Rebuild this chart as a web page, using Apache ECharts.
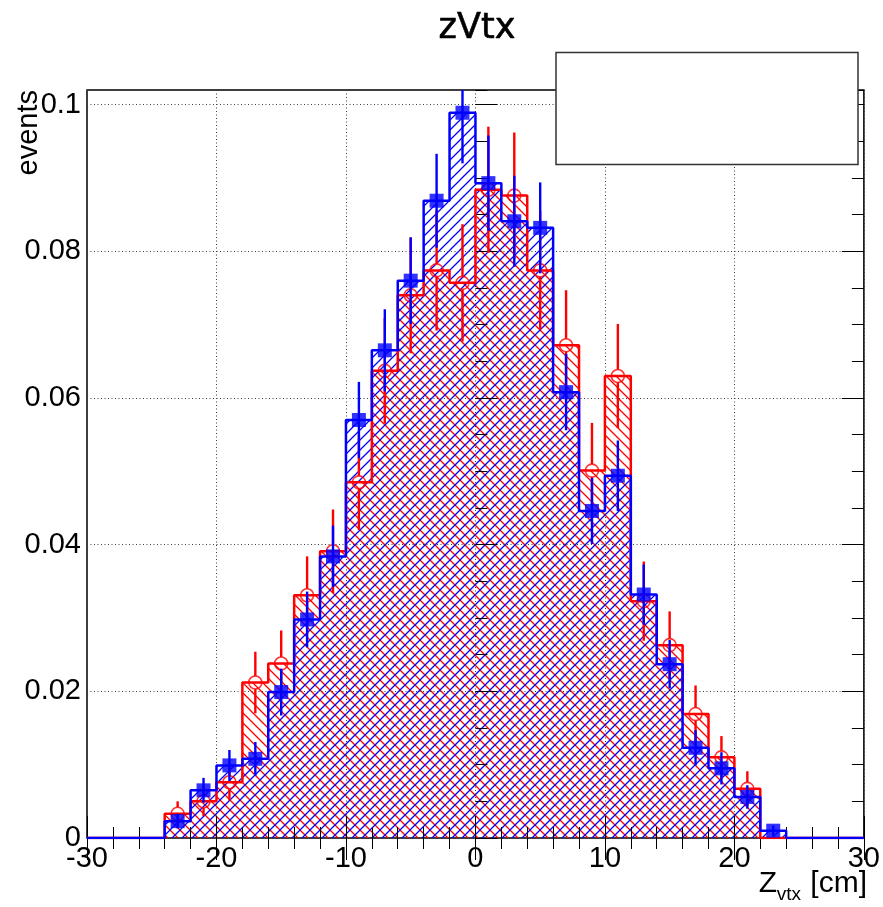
<!DOCTYPE html>
<html>
<head>
<meta charset="utf-8">
<script src="https://cdn.jsdelivr.net/npm/echarts@6/dist/echarts.min.js"></script>
<style>
html, body { margin: 0; padding: 0; background: #ffffff; }
#chart { width: 883px; height: 907px; }
</style>
</head>
<body>
<div id="chart"></div>
<script>
// z-vertex histograms: 2 cm bins between -24 and 24 cm
const binCenters = [-23, -21, -19, -17, -15, -13, -11, -9, -7, -5, -3, -1,
                    1, 3, 5, 7, 9, 11, 13, 15, 17, 19, 21, 23];
const binWidth = 2;

// red sample (open circles, "\\" hatch)
const redValues = [0.0033, 0.0050, 0.0076, 0.0212, 0.0238, 0.0331, 0.0391, 0.0485,
                   0.0637, 0.0740, 0.0774, 0.0757, 0.0884, 0.0876, 0.0774, 0.0672,
                   0.0501, 0.0630, 0.0323, 0.0263, 0.0169, 0.0110, 0.0067, 0.0];
const redErrors = [0.0017, 0.0020, 0.0025, 0.0042, 0.0045, 0.0053, 0.0057, 0.0065,
                   0.0072, 0.0079, 0.0082, 0.0080, 0.0086, 0.0086, 0.0081, 0.0075,
                   0.0065, 0.0071, 0.0054, 0.0046, 0.0039, 0.0029, 0.0024, 0.0];

// blue sample (filled squares, "//" hatch)
const blueValues = [0.0023, 0.0065, 0.0099, 0.0108, 0.0199, 0.0298, 0.0384, 0.0570,
                    0.0665, 0.0760, 0.0869, 0.0989, 0.0893, 0.0841, 0.0832, 0.0608,
                    0.0446, 0.0494, 0.0332, 0.0237, 0.0123, 0.0095, 0.0056, 0.0010];
const blueErrors = [0.0010, 0.0017, 0.0021, 0.0023, 0.0032, 0.0038, 0.0042, 0.0052,
                    0.0056, 0.0059, 0.0064, 0.0069, 0.0065, 0.0062, 0.0062, 0.0052,
                    0.0045, 0.0048, 0.0041, 0.0033, 0.0024, 0.0022, 0.0016, 0.0007];

// axis ranges and tick steps
const xRange = [-30, 30];
const xMajorStep = 10;
const yRange = [0, 0.102];
const yMajorStep = 0.02;
const yMinorStep = 0.005;

const RED = '#ff0000';
const BLUE = '#0000ff';
const FONT = 'Liberation Sans, Arial, Helvetica, sans-serif';

// Diagonal hatch tile used as a repeating fill
function hatchPattern(color, dir) {
  const s = 10;
  const c = document.createElement('canvas');
  c.width = s; c.height = s;
  const g = c.getContext('2d');
  g.strokeStyle = color;
  g.lineWidth = 1.3;
  g.beginPath();
  if (dir === '/') {
    g.moveTo(-2, s + 2); g.lineTo(s + 2, -2);
    g.moveTo(-2, 2); g.lineTo(2, -2);
    g.moveTo(s - 2, s + 2); g.lineTo(s + 2, s - 2);
  } else {
    g.moveTo(-2, -2); g.lineTo(s + 2, s + 2);
    g.moveTo(s - 2, -2); g.lineTo(s + 2, 2);
    g.moveTo(-2, s - 2); g.lineTo(2, s + 2);
  }
  g.stroke();
  return { image: c, repeat: 'repeat' };
}

// Step outline points: left edge of each bin, closed down to zero at both ends
function stepPoints(values) {
  const pts = [[xRange[0], 0]];
  binCenters.forEach((c, i) => pts.push([c - binWidth / 2, values[i]]));
  pts.push([binCenters[binCenters.length - 1] + binWidth / 2, 0]);
  pts.push([xRange[1], 0]);
  return pts;
}

function histFill(values, pattern) {
  return {
    type: 'line', step: 'end', data: stepPoints(values),
    symbol: 'none', silent: true, z: 2,
    lineStyle: { width: 0, opacity: 0 },
    areaStyle: { color: pattern, opacity: 1 }
  };
}

function histOutline(values, color) {
  return {
    type: 'line', step: 'end', data: stepPoints(values),
    symbol: 'none', silent: true, z: 6,
    lineStyle: { color: color, width: 2.5 }
  };
}

function pointsOf(values, errors) {
  return binCenters.map((c, i) => [c, values[i], errors[i]]).filter(d => d[1] > 0);
}

function errorBars(values, errors, color, gap, z) {
  return {
    type: 'custom', z: z, silent: true,
    data: pointsOf(values, errors),
    encode: { x: 0, y: 1 },
    renderItem: function (params, api) {
      const x = api.value(0), v = api.value(1), e = api.value(2);
      const top = api.coord([x, Math.min(v + e, yRange[1])]);
      const mid = api.coord([x, v]);
      const bot = api.coord([x, Math.max(v - e, yRange[0])]);
      const style = { stroke: color, lineWidth: 2.4 };
      const children = [];
      if (mid[1] - gap - top[1] > 0) {
        children.push({ type: 'line', shape: { x1: top[0], y1: top[1], x2: mid[0], y2: mid[1] - gap }, style: style });
      }
      if (bot[1] - (mid[1] + gap) > 0) {
        children.push({ type: 'line', shape: { x1: mid[0], y1: mid[1] + gap, x2: bot[0], y2: bot[1] }, style: style });
      }
      return { type: 'group', children: children };
    }
  };
}

const tickStyle = { color: '#000000', width: 1 };
const gridLine = { show: true, lineStyle: { color: '#3a3a3a', width: 1, type: [1, 2.5] } };

function xAxisDef(position, withLabels) {
  return {
    type: 'value', position: position, min: xRange[0], max: xRange[1], interval: xMajorStep,
    z: 5,
    axisLine: { show: false },
    axisTick: { show: true, inside: true, length: 22, lineStyle: tickStyle },
    minorTick: { show: true, splitNumber: 5, length: 11, lineStyle: tickStyle },
    axisLabel: withLabels
      ? { show: true, fontFamily: FONT, fontSize: 29, color: '#000', margin: 6 }
      : { show: false },
    splitLine: withLabels ? gridLine : { show: false }
  };
}

function yAxisDef(position, step, tickLen, withLabels) {
  return {
    type: 'value', position: position, min: yRange[0], max: yRange[1], interval: step,
    z: 5,
    axisLine: { show: false },
    axisTick: { show: true, inside: true, length: tickLen, lineStyle: tickStyle },
    axisLabel: withLabels
      ? { show: true, fontFamily: FONT, fontSize: 29, color: '#000', margin: 6, showMaxLabel: false }
      : { show: false },
    splitLine: withLabels ? gridLine : { show: false }
  };
}

const chart = echarts.init(document.getElementById('chart'), null, { renderer: 'canvas' });

chart.setOption({
  animation: false,
  backgroundColor: '#ffffff',
  grid: {
    left: 87, right: 15, top: 90, bottom: 69,
    show: true, borderColor: '#000000', borderWidth: 1.5, backgroundColor: 'transparent'
  },
  xAxis: [xAxisDef('bottom', true), xAxisDef('top', false)],
  yAxis: [
    yAxisDef('left', yMajorStep, 22, true),
    yAxisDef('left', yMinorStep, 12, false),
    yAxisDef('right', yMajorStep, 22, false),
    yAxisDef('right', yMinorStep, 12, false)
  ],
  series: [
    histFill(redValues, hatchPattern(RED, '\\')),
    histFill(blueValues, hatchPattern(BLUE, '/')),
    histOutline(redValues, RED),
    histOutline(blueValues, BLUE),
    errorBars(redValues, redErrors, RED, 6.5, 7),
    {
      type: 'scatter', z: 7, silent: true,
      data: pointsOf(redValues, redErrors),
      symbol: 'circle', symbolSize: 13,
      itemStyle: { color: 'rgba(0,0,0,0)', borderColor: RED, borderWidth: 1.6 }
    },
    errorBars(blueValues, blueErrors, BLUE, 0, 8),
    {
      type: 'scatter', z: 9, silent: true,
      data: pointsOf(blueValues, blueErrors),
      symbol: 'rect', symbolSize: 14,
      itemStyle: { color: BLUE }
    }
  ],
  graphic: [
    {
      type: 'text', x: 477, y: 29, z: 100,
      style: { text: 'zVtx', fontFamily: 'DejaVu Sans, sans-serif', fontSize: 35, fill: '#000',
               stroke: '#000', lineWidth: 0.6, align: 'center', verticalAlign: 'middle' }
    },
    {
      type: 'text', x: 29, y: 90, rotation: Math.PI / 2, z: 100,
      style: { text: 'events', fontFamily: FONT, fontSize: 29, fill: '#000',
               align: 'right', verticalAlign: 'middle' }
    },
    {
      type: 'text', x: 867, y: 884, z: 100,
      style: { text: '[cm]', fontFamily: FONT, fontSize: 30, fill: '#000',
               align: 'right', verticalAlign: 'middle' }
    },
    {
      type: 'text', x: 801, y: 895, z: 100,
      style: { text: 'vtx', fontFamily: FONT, fontSize: 19, fill: '#000',
               align: 'right', verticalAlign: 'middle' }
    },
    {
      type: 'text', x: 777, y: 884, z: 100,
      style: { text: 'Z', fontFamily: FONT, fontSize: 30, fill: '#000',
               align: 'right', verticalAlign: 'middle' }
    },
    {
      type: 'rect', z: 100,
      shape: { x: 556, y: 52.5, width: 302, height: 112 },
      style: { fill: '#ffffff', stroke: '#333333', lineWidth: 1.5 }
    }
  ]
});
</script>
</body>
</html>
